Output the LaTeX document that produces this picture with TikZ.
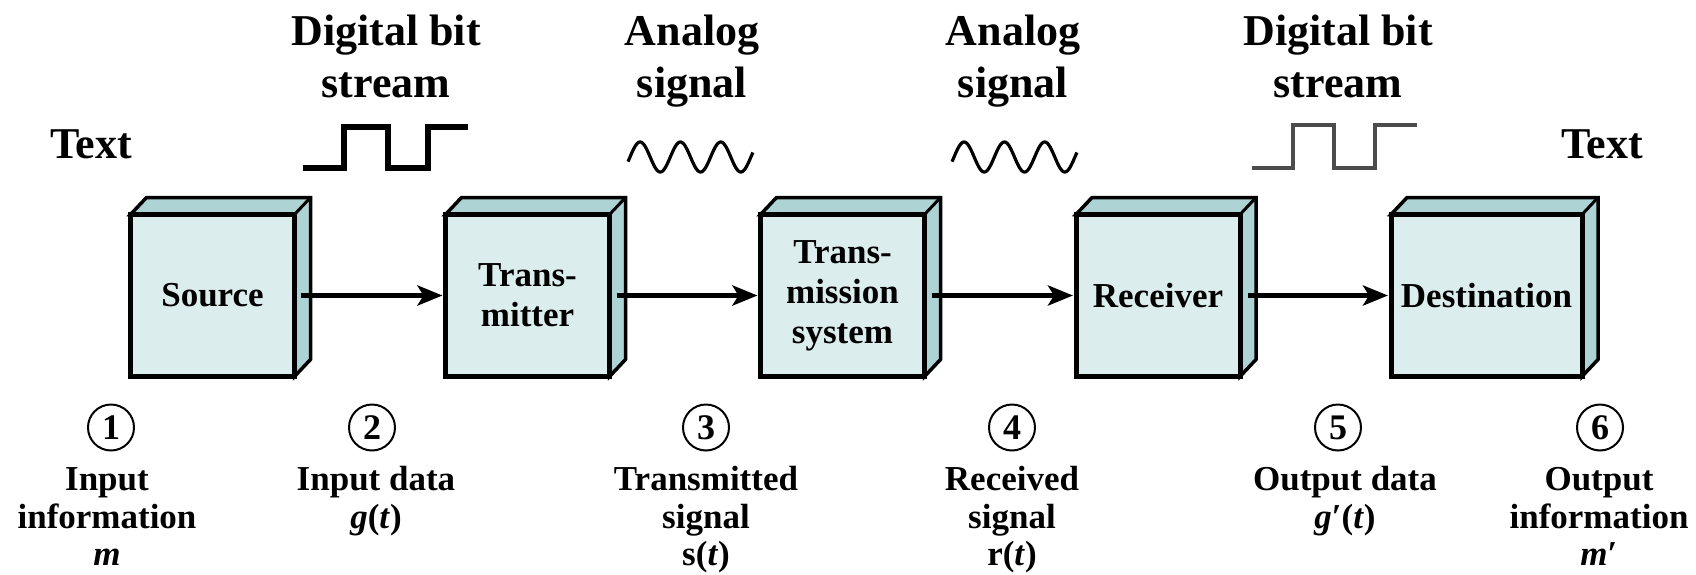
\documentclass[tikz,border=0pt]{standalone}
\usepackage{fontspec}
\setmainfont{Liberation Serif}
\newfontfamily\tnr{Liberation Serif}[BoldFont={Liberation Serif Bold}, ItalicFont={Liberation Serif Italic}, BoldItalicFont={Liberation Serif Bold Italic}]
\usetikzlibrary{arrows.meta,backgrounds}
\definecolor{facefront}{HTML}{DCEDED}
\definecolor{faceside}{HTML}{ADD3D4}
\begin{document}
\begin{tikzpicture}[x=1pt,y=-1pt,
  cube/.style={draw=black, line width=5pt, line join=miter, fill=facefront, minimum width=164pt, minimum height=162pt, outer sep=0pt, inner sep=0pt, align=center, font=\tnr\fontsize{35}{40}\selectfont\bfseries},
  toplab/.style={anchor=base, inner sep=0pt, font=\tnr\fontsize{44}{52}\selectfont\bfseries},
  botlab/.style={anchor=base, inner sep=0pt, font=\tnr\fontsize{35}{37}\selectfont\bfseries},
  num/.style={circle, draw=black, line width=2pt, minimum size=46pt, inner sep=0pt, font=\tnr\fontsize{36}{36}\selectfont\bfseries},
  flow/.style={line width=5.5pt, -{Stealth[length=25pt,width=20pt,inset=6pt]}},
  sq/.style={line width=6pt, line join=miter},
  wave/.style={line width=3.2pt}
]
\useasboundingbox (0,0) rectangle (1696,574);

% boxes
\node[cube] (src) at (212.5,295.5) {Source};
\node[cube] (tx) at (527.5,295.5) {Trans-\\mitter};
\node[cube] (sys) at (842.5,295.5) {Trans-\\mission\\system};
\node[cube] (rx) at (1158,295.5) {Receiver};
\node[cube, minimum width=191pt] (dst) at (1486.5,295.5) {Destination};

\begin{scope}[on background layer]
\foreach \n in {src,tx,sys,rx,dst}{
  \filldraw[fill=faceside, draw=black, line width=3.5pt, line join=miter]
    (\n.north west) -- ++(16,-17) -- ([shift={(16,-17)}]\n.north east)
    -- ([shift={(16,-17)}]\n.south east) -- (\n.south east) -- (\n.north east) -- cycle;
  \draw[line width=3pt] (\n.north east) -- ++(16,-17);
}
\end{scope}

% arrows
\draw[flow] ([xshift=6pt]src.east) -- ([xshift=-3pt]tx.west);
\draw[flow] ([xshift=7pt]tx.east) -- ([xshift=-3pt]sys.west);
\draw[flow] ([xshift=7pt]sys.east) -- ([xshift=-3pt]rx.west);
\draw[flow] ([xshift=8pt]rx.east) -- ([xshift=-3pt]dst.west);

% top labels
\node[toplab] (lt) at (91,158) {Text};
\node[toplab] (d1a) at (386,45) {Digital bit};
\node[toplab] (d1b) at (386,97) {stream};
\node[toplab] (a1a) at (692,45) {Analog};
\node[toplab] (a1b) at (692,97) {signal};
\node[toplab] (a2a) at (1013,45) {Analog};
\node[toplab] (a2b) at (1013,97) {signal};
\node[toplab] (d2a) at (1338,45) {Digital bit};
\node[toplab] (d2b) at (1338,97) {stream};
\node[toplab] (rt) at (1602,158) {Text};

% signals
\draw[sq] (303,168) -- (344,168) -- (344,127) -- (388,127) -- (388,168) -- (428,168) -- (428,127) -- (468,127);
\draw[sq, line width=4pt, black!70] (1252,168) -- (1293,168) -- (1293,125) -- (1334,125) -- (1334,168) -- (1375,168) -- (1375,125) -- (1417,125);
\draw[wave] plot[domain=-0.05:3.05, samples=150, smooth] ({628+(\x+0.05)*40.3},{157-15*sin(360*\x)});
\draw[wave] plot[domain=-0.05:3.05, samples=150, smooth] ({952+(\x+0.05)*40.3},{157-15*sin(360*\x)});

% bottom labels
\node[num] (n1) at (111,427.5) {1};
\node[botlab] (b1a) at (107,490) {Input};
\node[botlab] (b1b) at (107,528) {information};
\node[botlab] (b1c) at (107,565) {\textit{m}};

\node[num] (n2) at (372,427.5) {2};
\node[botlab] (b2a) at (376,490) {Input data};
\node[botlab] (b2b) at (376,528) {\textit{g}(\textit{t})};

\node[num] (n3) at (706,427.5) {3};
\node[botlab] (b3a) at (706,490) {Transmitted};
\node[botlab] (b3b) at (706,528) {signal};
\node[botlab] (b3c) at (706,565) {s(\textit{t})};

\node[num] (n4) at (1012,427.5) {4};
\node[botlab] (b4a) at (1012,490) {Received};
\node[botlab] (b4b) at (1012,528) {signal};
\node[botlab] (b4c) at (1012,565) {r(\textit{t})};

\node[num] (n5) at (1338,427.5) {5};
\node[botlab] (b5a) at (1345,490) {Output data};
\node[botlab] (b5b) at (1345,528) {\textit{g}′(\textit{t})};

\node[num] (n6) at (1600,427.5) {6};
\node[botlab] (b6a) at (1599,490) {Output};
\node[botlab] (b6b) at (1599,528) {information};
\node[botlab] (b6c) at (1599,565) {\textit{m}′};
\end{tikzpicture}
\end{document}
